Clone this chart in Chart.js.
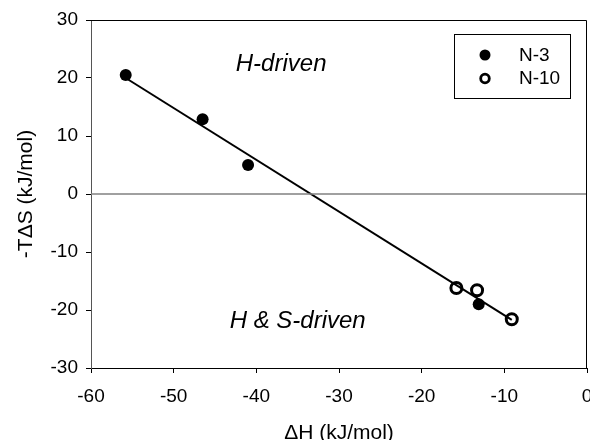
<!DOCTYPE html>
<html>
<head>
<meta charset="utf-8">
<script src="https://cdn.jsdelivr.net/npm/chart.js@4/dist/chart.umd.min.js"></script>
<style>
html,body{margin:0;padding:0;background:#fff;overflow:hidden;width:590px;height:440px;}
#wrap{position:absolute;left:0;top:0;width:610px;height:440px;}
</style>
</head>
<body>
<div id="wrap"><canvas id="c" width="610" height="440"></canvas></div>
<script>
// Data
const n3X = [-55.8, -46.5, -41.0, -13.1];
const n3Y = [20.5, 12.9, 5.0, -19.0];
const n10X = [-15.8, -13.3, -9.1];
const n10Y = [-16.2, -16.6, -21.6];
const fitX = [-55.8, -9.1];
const fitY = [20.0, -21.7];
const zeroX = [-60, 0];
const zeroY = [0, 0];
const xTicks = [-60, -50, -40, -30, -20, -10, 0];
const yTicks = [-30, -20, -10, 0, 10, 20, 30];
const seriesNames = ['N-3', 'N-10'];
const regionLabels = [
  {text: 'H-driven', x: -37.0, y: 22.4},
  {text: 'H & S-driven', x: -35.0, y: -21.9}
];

const toPts = (xs, ys) => xs.map((x, i) => ({x: x, y: ys[i]}));
const FONT = '"Liberation Sans", Arial, sans-serif';

const overlay = {
  id: 'overlay',
  afterDraw(chart) {
    const ctx = chart.ctx, a = chart.chartArea;
    const xs = chart.scales.x, ys = chart.scales.y;
    ctx.save();
    // frame top/right
    ctx.strokeStyle = '#000';
    ctx.lineWidth = 1;
    ctx.beginPath();
    ctx.moveTo(a.left, a.top + 0.5);
    ctx.lineTo(a.right - 0.5, a.top + 0.5);
    ctx.lineTo(a.right - 0.5, a.bottom);
    ctx.stroke();
    // region labels
    ctx.fillStyle = '#000';
    ctx.font = 'italic 24px ' + FONT;
    ctx.textAlign = 'center';
    ctx.textBaseline = 'middle';
    regionLabels.forEach(r => {
      ctx.fillText(r.text, xs.getPixelForValue(r.x), ys.getPixelForValue(r.y));
    });
    // legend box
    const bx = 454.5, by = 34.5, bw = 116, bh = 64;
    ctx.strokeStyle = '#000';
    ctx.lineWidth = 1;
    ctx.fillStyle = '#fff';
    ctx.fillRect(bx, by, bw, bh);
    ctx.strokeRect(bx, by, bw, bh);
    ctx.font = '19px ' + FONT;
    ctx.textAlign = 'left';
    ctx.fillStyle = '#000';
    // N-3
    ctx.beginPath();
    ctx.arc(485, 55, 5.5, 0, Math.PI * 2);
    ctx.fill();
    ctx.fillText(seriesNames[0], 519, 56);
    // N-10
    ctx.beginPath();
    ctx.lineWidth = 2.8;
    ctx.arc(485, 78.5, 4.3, 0, Math.PI * 2);
    ctx.stroke();
    ctx.fillText(seriesNames[1], 519, 79);
    ctx.restore();
  }
};

new Chart(document.getElementById('c'), {
  type: 'scatter',
  data: {
    datasets: [
      {
        label: 'zero', type: 'line', data: toPts(zeroX, zeroY),
        borderColor: '#808080', borderWidth: 1.5, pointRadius: 0, fill: false
      },
      {
        label: 'fit', type: 'line', data: toPts(fitX, fitY),
        borderColor: '#000', borderWidth: 2, pointRadius: 0, fill: false
      },
      {
        label: seriesNames[0], data: toPts(n3X, n3Y),
        backgroundColor: '#000', borderColor: '#000', pointRadius: 6, borderWidth: 0
      },
      {
        label: seriesNames[1], data: toPts(n10X, n10Y),
        backgroundColor: '#fff', borderColor: '#000', pointRadius: 5.5, borderWidth: 3
      }
    ]
  },
  options: {
    responsive: false,
    animation: false,
    events: [],
    layout: {padding: {left: 0, right: 23, top: 20, bottom: 0}},
    plugins: {legend: {display: false}, tooltip: {enabled: false}},
    scales: {
      x: {
        type: 'linear', min: -60, max: 0,
        afterBuildTicks: s => { s.ticks = xTicks.map(v => ({value: v})); },
        afterFit: s => { s.height = 72; },
        grid: {drawOnChartArea: false, drawTicks: true, tickLength: 5, color: '#000', lineWidth: 1},
        border: {display: true, color: '#000', width: 1},
        ticks: {color: '#000', font: {family: FONT, size: 19}, padding: 12, maxRotation: 0},
        title: {display: true, text: 'ΔH (kJ/mol)', color: '#000', font: {family: FONT, size: 21, lineHeight: 0.67}, padding: {top: 0, bottom: 0}}
      },
      y: {
        type: 'linear', min: -30, max: 30,
        afterBuildTicks: s => { s.ticks = yTicks.map(v => ({value: v})); },
        afterFit: s => { s.width = 91; },
        grid: {drawOnChartArea: false, drawTicks: true, tickLength: 5, color: '#000', lineWidth: 1},
        border: {display: true, color: '#555', width: 1},
        ticks: {color: '#000', font: {family: FONT, size: 19}, padding: 8},
        title: {display: true, text: '-TΔS (kJ/mol)', color: '#000', font: {family: FONT, size: 21, lineHeight: 1.2}, padding: {top: 14, bottom: 0}}
      }
    }
  },
  plugins: [overlay]
});
</script>
</body>
</html>
